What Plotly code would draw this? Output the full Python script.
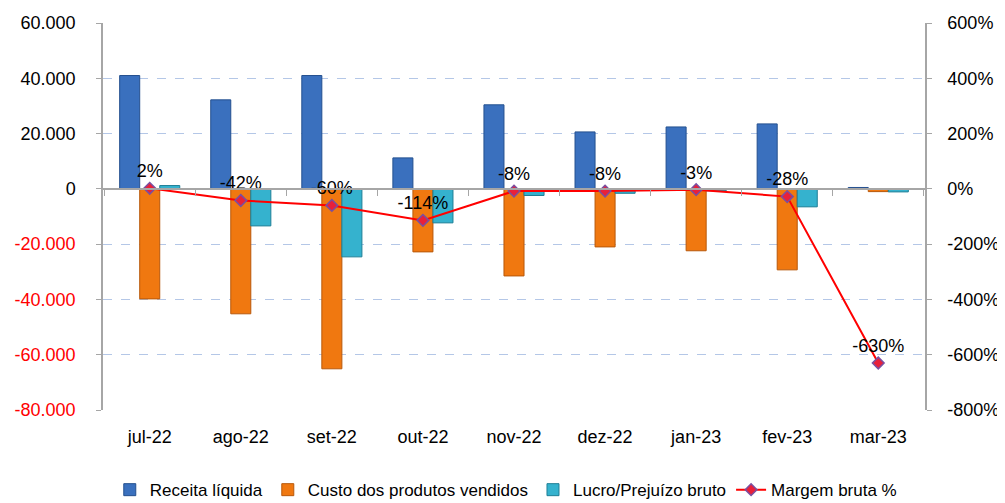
import plotly.graph_objects as go

categories = ["jul-22", "ago-22", "set-22", "out-22", "nov-22", "dez-22", "jan-23", "fev-23", "mar-23"]
receita = [41000, 32200, 41000, 11200, 30400, 20600, 22400, 23500, 500]
custo = [-39800, -45200, -65100, -22800, -31500, -21000, -22400, -29300, -1000]
lucro = [1200, -13400, -24600, -12300, -2400, -1600, -700, -6500, -1100]
margem = [2, -42, -60, -114, -8, -8, -3, -28, -630]
margem_labels = ["2%", "-42%", "-60%", "-114%", "-8%", "-8%", "-3%", "-28%", "-630%"]

left_vals = [60000, 40000, 20000, 0, -20000, -40000, -60000, -80000]
left_text = ["60.000", "40.000", "20.000", "0", "-20.000", "-40.000", "-60.000", "-80.000"]
right_vals = [600, 400, 200, 0, -200, -400, -600, -800]
right_text = ["600%", "400%", "200%", "0%", "-200%", "-400%", "-600%", "-800%"]

FONT = "Liberation Sans, Arial"

left_ticktext = [
    f'<span style="color:#FF0000">{t}</span>' if v < 0 else t
    for v, t in zip(left_vals, left_text)
]

fig = go.Figure()
fig.add_trace(go.Bar(x=categories, y=receita, name="Receita líquida",
                     marker=dict(color="#3A70BE", line=dict(color="#24508F", width=1))))
fig.add_trace(go.Bar(x=categories, y=custo, name="Custo dos produtos vendidos",
                     marker=dict(color="#F07810", line=dict(color="#B8580A", width=1))))
fig.add_trace(go.Bar(x=categories, y=lucro, name="Lucro/Prejuízo bruto",
                     marker=dict(color="#35B2CE", line=dict(color="#1F7F96", width=1))))
fig.add_trace(go.Scatter(x=categories, y=margem, name="Margem bruta %", xaxis="x2", yaxis="y2",
                         mode="lines+markers+text", text=margem_labels, textposition="top center",
                         textfont=dict(size=18, color="#000000", family=FONT),
                         line=dict(color="#FF0000", width=2),
                         marker=dict(symbol="diamond", size=9, color="#E8203A",
                                     line=dict(color="#7A4FA0", width=1.5))))

fig.update_layout(
    width=997, height=495,
    margin=dict(l=95, r=80, t=15, b=93, autoexpand=False),
    plot_bgcolor="white", paper_bgcolor="white",
    barmode="group", bargap=0.34, bargroupgap=0,
    font=dict(family=FONT, size=17, color="#000000"),
    showlegend=True,
    legend=dict(orientation="h", x=0.49, xanchor="center",
                y=-0.207, yanchor="middle",
                font=dict(size=17, family=FONT), itemwidth=30, tracegroupgap=0),
    xaxis=dict(anchor="free", position=80/140, showline=True, linecolor="#A6A6A6", linewidth=1.5,
               showticklabels=False, ticks="outside", ticklen=6, tickcolor="#A6A6A6",
               tickson="boundaries", showgrid=False, zeroline=False),
    xaxis2=dict(overlaying="x", matches="x", anchor="y", side="bottom", showline=False,
                ticks="", showgrid=False, zeroline=False, ticklabelstandoff=14,
                tickfont=dict(size=18, family=FONT)),
    yaxis=dict(range=[-80000, 60000], tickvals=left_vals, ticktext=left_ticktext,
               showgrid=True, gridcolor="#B4C7E7", griddash="dash", gridwidth=1,
               zeroline=False, showline=True, linecolor="#A6A6A6", linewidth=1.5,
               ticks="outside", ticklen=5, tickcolor="#A6A6A6", ticklabelstandoff=17,
               tickfont=dict(size=18, family=FONT)),
    yaxis2=dict(range=[-800, 600], tickvals=right_vals, ticktext=right_text,
                overlaying="y", side="right", anchor="x2", showgrid=False, zeroline=False,
                showline=True, linecolor="#A6A6A6", linewidth=1.5,
                ticks="outside", ticklen=5, tickcolor="#A6A6A6", ticklabelstandoff=12,
                tickfont=dict(size=18, family=FONT)),
)

fig.write_html("out.html")
